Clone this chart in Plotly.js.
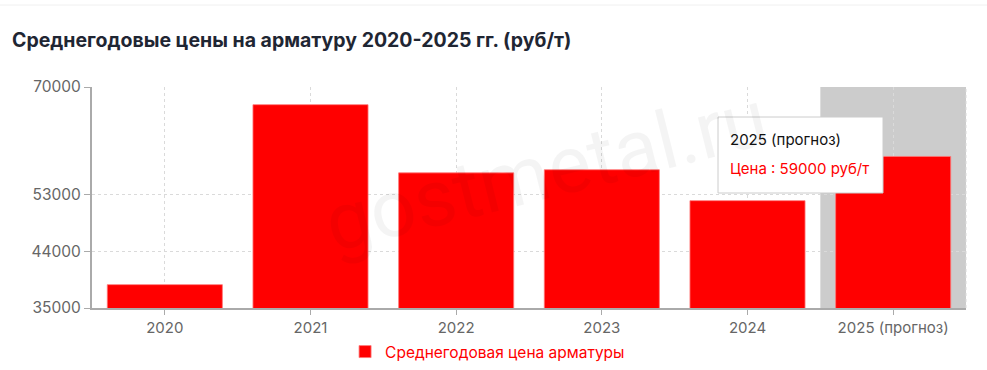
<!DOCTYPE html>
<html><head><meta charset="utf-8">
<script src="https://cdn.plot.ly/plotly-3.0.1.min.js"></script>
<style>html,body{margin:0;padding:0;background:#fff;}#chart{width:987px;height:370px;}</style>
</head><body><div id="chart"></div>
<script>
const categories = ['2020','2021','2022','2023','2024','2025 (прогноз)'];
const prices = [38700, 67200, 56400, 56900, 52000, 59000];
const yTicks = [35000, 44000, 53000, 70000];
const seriesName = 'Среднегодовая цена арматуры';
const hoverIndex = 5;

const W = 874, H = 221, L = 92, T = 87;
const px = v => (v - L) / W;
const py = v => 1 - (v - T) / H;

const trace = {
  type: 'bar', x: categories, y: prices, name: seriesName,
  marker: {color: '#ff0000', line: {color: 'rgba(255,120,120,0.8)', width: 1}},
  showlegend: true
};
const layout = {
  width: 987, height: 370,
  margin: {l: 92, r: 21, t: 87, b: 62, autoexpand: false},
  paper_bgcolor: '#fff', plot_bgcolor: '#fff',
  font: {family: 'Inter, "Noto Sans", sans-serif', size: 15, color: '#666'},
  title: {text: '<b>Среднегодовые цены на арматуру 2020-2025 гг. (руб/т)</b>',
    x: 12/987, xanchor: 'left', xref: 'container', y: 1 - 40/370, yref: 'container', yanchor: 'middle',
    font: {family: 'Inter, "Noto Sans", sans-serif', size: 19.5, color: '#1f2633'}},
  bargap: 0.21,
  xaxis: {type: 'category', showgrid: true, gridcolor: '#dadada', griddash: '3px,3px', gridwidth: 1,
    showline: true, linecolor: '#aaa', linewidth: 2, ticks: 'outside', ticklen: 5, tickcolor: '#aaa',
    tickfont: {size: 15, color: '#666'}, zeroline: false},
  yaxis: {range: [35000, 70000], tickvals: yTicks, ticktext: yTicks.map(String),
    showgrid: true, gridcolor: '#dadada', griddash: '3px,3px', gridwidth: 1,
    showline: true, linecolor: '#aaa', linewidth: 2, ticks: 'outside', ticklen: 6, tickcolor: '#aaa',
    tickfont: {size: 15.5, color: '#666'}, zeroline: false},
  legend: {orientation: 'h', x: 0.494, xref: 'container', xanchor: 'center', y: 1 - 352/370, yref: 'container', yanchor: 'middle',
    font: {size: 15.5, color: '#ff0000'}},
  shapes: [
    {type: 'rect', xref: 'x', yref: 'paper', x0: hoverIndex - 0.5, x1: hoverIndex + 0.5, y0: 0, y1: 1,
      fillcolor: '#cccccc', line: {width: 0}, layer: 'below'},
    {type: 'line', xref: 'paper', yref: 'paper', x0: 1, x1: 1, y0: 0, y1: 1,
      line: {color: '#dadada', width: 1, dash: '3px,3px'}},
    {type: 'line', xref: 'paper', yref: 'paper', x0: px(0), x1: px(987), y0: py(5), y1: py(5),
      line: {color: '#f0f0f0', width: 1}},
    {type: 'rect', xref: 'paper', yref: 'paper', x0: px(718), x1: px(883), y0: py(193), y1: py(117),
      fillcolor: '#ffffff', line: {color: '#cccccc', width: 1}, layer: 'above'}
  ],
  annotations: [
    {text: 'gostmetal.ru', xref: 'paper', yref: 'paper', x: 0.52, y: 0.62, showarrow: false,
      textangle: -14, font: {family: 'Roboto, "Liberation Sans", sans-serif', size: 80, color: 'rgba(0,0,0,0.045)'}},
    {text: categories[hoverIndex], xref: 'paper', yref: 'paper', x: px(728), y: py(139),
      xanchor: 'left', yanchor: 'middle', showarrow: false,
      font: {family: 'Inter, "Noto Sans", sans-serif', size: 15, color: '#111'}},
    {text: 'Цена : ' + prices[hoverIndex] + ' руб/т', xref: 'paper', yref: 'paper', x: px(728), y: py(168),
      xanchor: 'left', yanchor: 'middle', showarrow: false,
      font: {family: 'Inter, "Noto Sans", sans-serif', size: 15, color: '#ff0000'}}
  ]
};
Plotly.newPlot('chart', [trace], layout, {displayModeBar: false, staticPlot: true});
</script></body></html>
